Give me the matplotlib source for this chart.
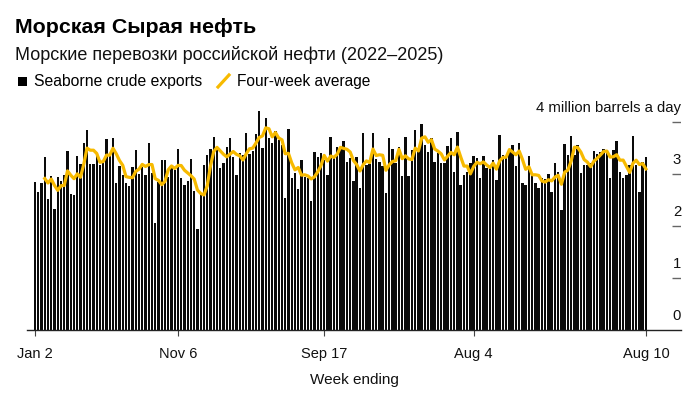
import matplotlib
matplotlib.use("Agg")
import matplotlib.pyplot as plt
from matplotlib.lines import Line2D
from matplotlib.patches import Rectangle
import pandas as pd

# weekly seaborne crude exports, million barrels a day (week ending Jan 2 2022 .. Aug 10 2025)
exports = [
    2.85, 2.66, 2.82, 3.32, 2.51, 2.96, 2.33, 2.94, 2.87, 2.98,
    3.45, 2.61, 2.60, 3.35, 3.19, 3.60, 3.85, 3.19, 3.19, 3.35,
    3.17, 3.25, 3.68, 3.35, 3.70, 2.83, 3.16, 2.98, 2.83, 2.77,
    3.14, 3.46, 3.00, 3.14, 2.98, 3.60, 3.01, 2.05, 2.85, 3.27,
    3.26, 2.94, 3.15, 3.08, 3.49, 2.93, 2.79, 2.87, 3.28, 2.67,
    1.95, 2.60, 3.17, 3.37, 3.48, 3.71, 3.49, 3.11, 3.21, 3.51,
    3.69, 3.32, 2.99, 3.40, 3.37, 3.79, 3.38, 3.45, 3.76, 4.22,
    3.50, 4.07, 3.69, 3.60, 3.83, 3.65, 3.55, 2.53, 3.86, 2.92,
    3.01, 2.71, 3.27, 2.95, 2.92, 2.48, 3.43, 3.33, 3.40, 3.27,
    2.99, 3.72, 3.30, 3.51, 3.52, 3.64, 3.23, 3.30, 2.87, 3.32,
    2.74, 3.78, 3.17, 3.19, 3.78, 3.28, 3.23, 3.15, 2.63, 3.69,
    3.49, 3.21, 3.51, 2.97, 3.71, 2.97, 3.46, 3.85, 3.49, 3.96,
    3.56, 3.43, 3.69, 3.24, 3.40, 3.22, 3.22, 3.53, 3.69, 3.04,
    3.81, 2.78, 2.98, 3.04, 3.21, 3.35, 3.30, 2.93, 3.35, 3.11,
    3.11, 3.27, 2.88, 3.75, 3.37, 3.30, 3.46, 3.56, 3.16, 3.59,
    2.82, 2.79, 3.35, 2.98, 2.82, 2.74, 2.92, 2.90, 3.00, 2.65,
    3.21, 3.04, 2.31, 3.58, 3.37, 3.74, 3.37, 3.56, 3.01, 3.17,
    3.17, 3.21, 3.44, 3.38, 3.43, 3.49, 3.46, 2.92, 3.46, 3.64,
    3.04, 2.93, 2.98, 3.17, 3.74, 3.17, 2.65, 3.24, 3.33,
]
weeks = pd.date_range("2022-01-02", periods=len(exports), freq="7D")
tick_dates = ["2022-01-02", "2022-11-06", "2023-09-17", "2024-08-04", "2025-08-10"]
tick_labels = ["Jan 2", "Nov 6", "Sep 17", "Aug 4", "Aug 10"]
y_levels = [0, 1, 2, 3, 4]

avg = pd.Series(exports).rolling(4).mean()
x = list(range(len(exports)))
tick_pos = [weeks.get_loc(pd.Timestamp(d)) for d in tick_dates]

plt.rcParams["font.family"] = ["Liberation Sans", "DejaVu Sans"]

W, H = 700, 398
fig = plt.figure(figsize=(W / 100, H / 100), dpi=100)
ax = fig.add_axes([27 / W, 1 - 330 / H, (681 - 27) / W, 230 / H])

ax.bar(x, exports, width=0.74, color="#0a0a0a", linewidth=0)
ax.plot(x, avg, color="#F7BA00", lw=2.3, solid_joinstyle="round")

ax.set_xlim(-2.46, 198.8)
ax.set_ylim(0, 230 / 52)

for s in ["top", "right", "left"]:
    ax.spines[s].set_visible(False)
ax.spines["bottom"].set_color("#222222")
ax.spines["bottom"].set_linewidth(1)
ax.set_yticks([])
ax.set_xticks(tick_pos)
ax.set_xticklabels(tick_labels, fontsize=10.5, color="#111111")
ax.tick_params(axis="x", length=4, color="#444444", pad=8)
ax.set_xlabel("Week ending", fontsize=11, labelpad=9, color="#111111")

# short gridline dashes with labels at the right edge
for v in y_levels[1:]:
    ax.hlines(v, 196.0, 198.8, color="#666666", lw=1)
for v in y_levels:
    lab = "4 million barrels a day" if v == 4 else str(v)
    ax.annotate(lab, (198.8, v), xytext=(0, 10), textcoords="offset points",
                ha="right", va="center", fontsize=10.7, color="#111111",
                annotation_clip=False)

def fx(px):
    return px / W

def fy(py):
    return 1 - py / H

fig.text(fx(15), fy(33), "Морская Сырая нефть", fontsize=15.4, fontweight="bold",
         va="baseline", color="black")
fig.text(fx(15), fy(60), "Морские перевозки российской нефти (2022–2025)",
         fontsize=13, va="baseline", color="#111111")

# legend
fig.add_artist(Rectangle((fx(18), fy(86)), 9 / W, 9 / H, transform=fig.transFigure,
                         color="black", lw=0))
fig.text(fx(34), fy(86), "Seaborne crude exports", fontsize=11.3, va="baseline")
fig.add_artist(Line2D([fx(218), fx(229)], [fy(87), fy(75)], transform=fig.transFigure,
                      color="#F7BA00", lw=2.3))
fig.text(fx(237), fy(86), "Four-week average", fontsize=11.2, va="baseline")

fig.savefig("out.png", dpi=100)
